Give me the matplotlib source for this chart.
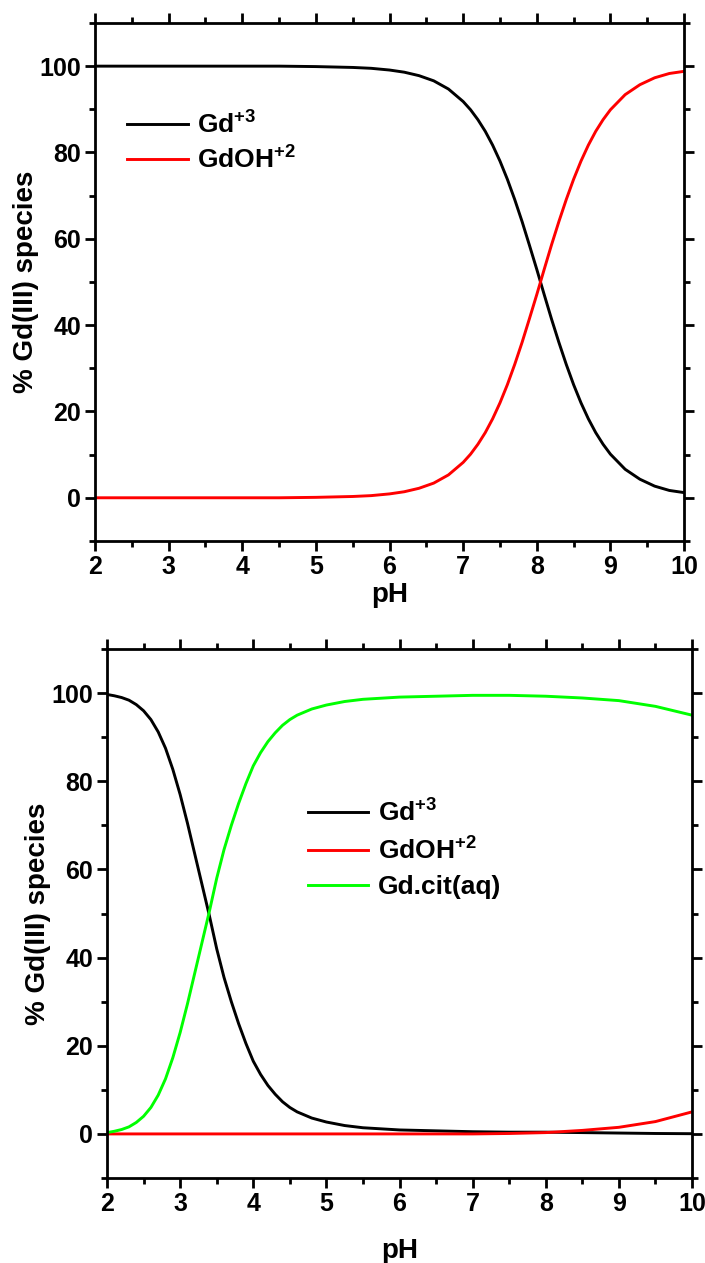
"""
Gd(III) speciation vs pH: free Gd+3 / GdOH+2 (top) and with citrate (bottom).
"""

import matplotlib
matplotlib.use('Agg')
import matplotlib.pyplot as plt
from matplotlib.ticker import MultipleLocator

# ============================================
# DATA
# ============================================

# Top panel: no ligand
ph_top = [2.0, 2.5, 3.0, 3.5, 4.0, 4.5, 5.0,
          5.25, 5.5, 5.75, 6.0,
          6.2, 6.4, 6.6, 6.8, 7.0,
          7.1, 7.2, 7.3, 7.4, 7.5, 7.6, 7.7, 7.8, 7.9, 8.0,
          8.1, 8.2, 8.3, 8.4, 8.5, 8.6, 8.7, 8.8, 8.9, 9.0,
          9.2, 9.4, 9.6, 9.8, 10.0]
gd_top = [100.0, 100.0, 100.0, 100.0, 100.0, 100.0, 99.9,
          99.8, 99.7, 99.5, 99.1,
          98.6, 97.8, 96.6, 94.7, 91.8,
          89.9, 87.6, 84.9, 81.7, 78.0, 73.8, 69.1, 64.0, 58.5, 52.9,
          47.1, 41.4, 36.0, 30.9, 26.2, 22.0, 18.3, 15.1, 12.4, 10.1,
          6.6, 4.3, 2.7, 1.7, 1.2]
gdoh_top = [0.0, 0.0, 0.0, 0.0, 0.0, 0.0, 0.1,
            0.2, 0.3, 0.5, 0.9,
            1.4, 2.2, 3.4, 5.3, 8.2,
            10.1, 12.4, 15.1, 18.3, 22.0, 26.2, 30.9, 36.0, 41.5, 47.1,
            52.9, 58.6, 64.0, 69.1, 73.8, 78.0, 81.7, 84.9, 87.6, 89.9,
            93.4, 95.7, 97.3, 98.3, 98.8]

# Bottom panel: with citrate
ph_bot = [2.0, 2.1, 2.2, 2.3, 2.4, 2.5, 2.6, 2.7, 2.8, 2.9, 3.0,
          3.1, 3.2, 3.3, 3.4, 3.5, 3.6, 3.7, 3.8, 3.9, 4.0,
          4.1, 4.2, 4.3, 4.4, 4.5, 4.6, 4.8, 5.0,
          5.25, 5.5, 6.0, 6.5, 7.0, 7.5, 8.0, 8.5, 9.0, 9.5, 10.0]
gd_bot = [99.7, 99.4, 99.0, 98.4, 97.4, 96.0, 94.0, 91.2, 87.5, 82.7, 77.0,
          70.5, 63.5, 56.5, 49.5, 42.0, 35.5, 30.0, 25.0, 20.5, 16.5,
          13.5, 11.0, 9.0, 7.3, 6.0, 5.0, 3.6, 2.7,
          1.9, 1.4, 0.9, 0.7, 0.5, 0.4, 0.4, 0.3, 0.2, 0.1, 0.05]
gdoh_bot = [0.0, 0.0, 0.0, 0.0, 0.0, 0.0, 0.0, 0.0, 0.0, 0.0, 0.0,
            0.0, 0.0, 0.0, 0.0, 0.0, 0.0, 0.0, 0.0, 0.0, 0.0,
            0.0, 0.0, 0.0, 0.0, 0.0, 0.0, 0.0, 0.0,
            0.0, 0.0, 0.0, 0.0, 0.0, 0.1, 0.3, 0.8, 1.5, 2.8, 5.0]
gdcit_bot = [0.3, 0.6, 1.0, 1.6, 2.6, 4.0, 6.0, 8.8, 12.5, 17.3, 23.0,
             29.5, 36.5, 43.5, 50.5, 58.0, 64.5, 70.0, 75.0, 79.5, 83.5,
             86.5, 89.0, 91.0, 92.7, 94.0, 95.0, 96.4, 97.3,
             98.1, 98.6, 99.1, 99.3, 99.5, 99.5, 99.3, 98.9, 98.3, 97.0, 95.0]

LABEL_GD = r'Gd$^{+3}$'
LABEL_GDOH = r'GdOH$^{+2}$'
LABEL_GDCIT = 'Gd.cit(aq)'

# ============================================
# STYLE
# ============================================
TICK_FONTSIZE = 18
LABEL_FONTSIZE = 20
LEGEND_FONTSIZE = 19
LINE_WIDTH = 2.1

plt.rcParams['font.family'] = 'Liberation Sans'
plt.rcParams['font.weight'] = 'bold'
plt.rcParams['axes.labelweight'] = 'bold'
plt.rcParams['mathtext.fontset'] = 'custom'
plt.rcParams['mathtext.rm'] = 'Liberation Sans:bold'
plt.rcParams['mathtext.it'] = 'Liberation Sans:bold'
plt.rcParams['mathtext.bf'] = 'Liberation Sans:bold'
plt.rcParams['mathtext.default'] = 'bf'


def style_axes(ax, xlabel_pad):
    ax.set_xlim(2, 10)
    ax.set_ylim(-10, 110)
    ax.xaxis.set_major_locator(MultipleLocator(1))
    ax.xaxis.set_minor_locator(MultipleLocator(0.5))
    ax.yaxis.set_major_locator(MultipleLocator(20))
    ax.yaxis.set_minor_locator(MultipleLocator(10))
    ax.tick_params(which='both', direction='out', top=True, right=True,
                   width=2.0, labelsize=TICK_FONTSIZE, pad=3)
    ax.tick_params(which='major', length=7)
    ax.tick_params(which='minor', length=4)
    for sp in ax.spines.values():
        sp.set_linewidth(2.0)
    ax.set_xlabel('pH', fontsize=LABEL_FONTSIZE, labelpad=xlabel_pad)
    ax.set_ylabel('% Gd(III) species', fontsize=LABEL_FONTSIZE, labelpad=0)


fig = plt.figure(figsize=(7.05, 12.63), dpi=100)
ax1 = fig.add_axes([0.1348, 0.5717, 0.8355, 0.4101])
ax2 = fig.add_axes([0.1518, 0.0673, 0.8298, 0.4188])

# Top panel
ax1.plot(ph_top, gd_top, color='black', lw=LINE_WIDTH, label=LABEL_GD)
ax1.plot(ph_top, gdoh_top, color='#ff0000', lw=LINE_WIDTH, label=LABEL_GDOH)
style_axes(ax1, xlabel_pad=2)
ax1.legend(loc='upper left', bbox_to_anchor=(0.055, 0.83), frameon=False,
           fontsize=LEGEND_FONTSIZE, handlelength=2.3, handletextpad=0.35,
           labelspacing=0.3, borderpad=0, borderaxespad=0)

# Bottom panel
ax2.plot(ph_bot, gd_bot, color='black', lw=LINE_WIDTH, label=LABEL_GD)
ax2.plot(ph_bot, gdoh_bot, color='#ff0000', lw=LINE_WIDTH, label=LABEL_GDOH)
ax2.plot(ph_bot, gdcit_bot, color='#00ff00', lw=LINE_WIDTH, label=LABEL_GDCIT)
style_axes(ax2, xlabel_pad=16)
ax2.legend(loc='upper left', bbox_to_anchor=(0.343, 0.716), frameon=False,
           fontsize=LEGEND_FONTSIZE, handlelength=2.3, handletextpad=0.35,
           labelspacing=0.4, borderpad=0, borderaxespad=0)

fig.savefig('out.png', dpi=100)
